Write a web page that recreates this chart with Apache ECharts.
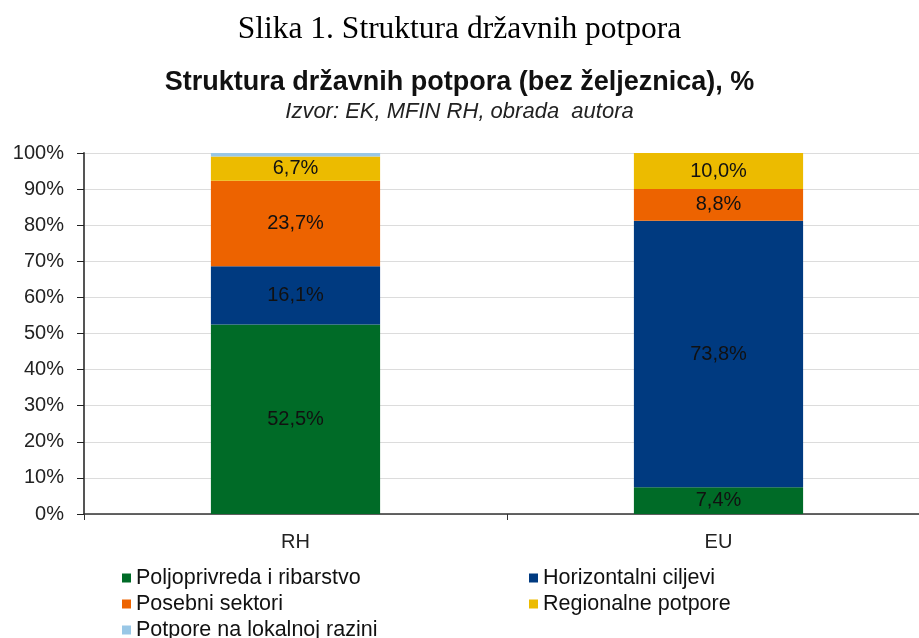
<!DOCTYPE html>
<html>
<head>
<meta charset="utf-8">
<script src="https://cdn.jsdelivr.net/npm/echarts@6/dist/echarts.min.js"></script>
<style>
  html, body { margin: 0; padding: 0; background: #fff; }
  #chart { width: 919px; height: 638px; }
</style>
</head>
<body>
<div id="chart"></div>
<script>
// values in %
var categories = ['RH', 'EU'];
var poljoprivreda = [52.5, 7.4];
var horizontalni = [16.1, 73.8];
var posebni = [23.7, 8.8];
var regionalne = [6.7, 10.0];
var lokalne = [1.0, 0];
var yTicks = [0, 10, 20, 30, 40, 50, 60, 70, 80, 90, 100];

var font = '"Liberation Sans", Arial, sans-serif';

var myChart = echarts.init(document.getElementById('chart'));

function seg(name, data, color, showLabel) {
  return {
    name: name,
    type: 'bar',
    stack: 'total',
    barWidth: '40%',
    data: data,
    itemStyle: { color: color },
    label: {
      show: showLabel,
      position: 'inside',
      color: '#111',
      fontFamily: font,
      fontSize: 20,
      formatter: function (p) {
        return p.value > 0 ? p.value.toFixed(1).replace('.', ',') + '%' : '';
      }
    }
  };
}

var legendBase = {
  orient: 'vertical', top: 562, height: 100,
  icon: 'rect', itemWidth: 9, itemHeight: 9, itemGap: 4,
  textStyle: { fontFamily: font, fontSize: 21.5, lineHeight: 21, color: '#111' }
};

var option = {
  backgroundColor: '#fff',
  animation: false,
  title: [
    {
      text: 'Slika 1. Struktura državnih potpora',
      left: 'center', top: 9,
      textStyle: { fontFamily: '"Liberation Serif", "Times New Roman", serif', fontWeight: 'normal', fontSize: 31.5, color: '#000' }
    },
    {
      text: 'Struktura državnih potpora (bez željeznica), %',
      left: 'center', top: 64,
      textStyle: { fontFamily: font, fontWeight: 'bold', fontSize: 27, color: '#111' }
    },
    {
      text: 'Izvor: EK, MFIN RH, obrada  autora',
      left: 'center', top: 96,
      textStyle: { fontFamily: font, fontStyle: 'italic', fontWeight: 'normal', fontSize: 22, color: '#222' }
    }
  ],
  legend: [
    Object.assign({}, legendBase, {
      data: ['Poljoprivreda i ribarstvo', 'Posebni sektori', 'Potpore na lokalnoj razini'],
      left: 117
    }),
    Object.assign({}, legendBase, {
      data: ['Horizontalni ciljevi', 'Regionalne potpore'],
      left: 524
    })
  ],
  grid: { left: 84, top: 153, right: -11, height: 361, containLabel: false, outerBoundsMode: 'none' },
  xAxis: {
    type: 'category',
    data: categories,
    axisLine: { lineStyle: { color: '#333', width: 1.5 } },
    axisTick: { show: true, length: 6, inside: false, lineStyle: { color: '#333' } },
    axisLabel: { fontFamily: font, fontSize: 20, color: '#222', margin: 18 }
  },
  yAxis: {
    type: 'value',
    min: yTicks[0],
    max: yTicks[yTicks.length - 1],
    interval: 10,
    axisLine: { show: true, lineStyle: { color: '#555', width: 2 } },
    axisTick: { show: true, length: 7, lineStyle: { color: '#222' } },
    splitLine: { lineStyle: { color: '#dcdcdc', width: 1 } },
    axisLabel: { fontFamily: font, fontSize: 20, color: '#222', margin: 20, formatter: '{value}%' }
  },
  series: [
    seg('Poljoprivreda i ribarstvo', poljoprivreda, '#006b27', true),
    seg('Horizontalni ciljevi', horizontalni, '#003a80', true),
    seg('Posebni sektori', posebni, '#ed6300', true),
    seg('Regionalne potpore', regionalne, '#ecbb00', true),
    seg('Potpore na lokalnoj razini', lokalne, '#99c7e6', false)
  ]
};

option && myChart.setOption(option);
</script>
</body>
</html>
